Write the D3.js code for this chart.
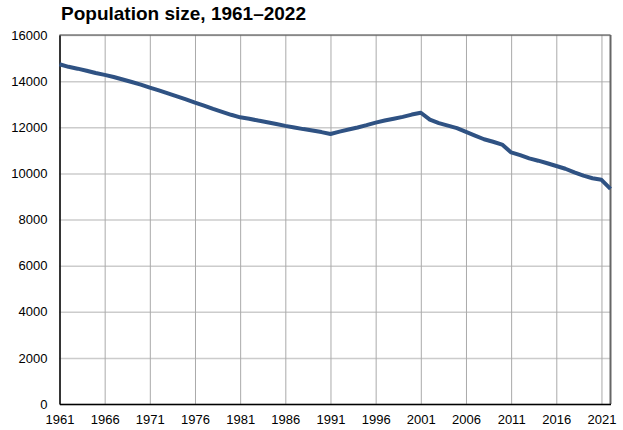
<!DOCTYPE html>
<html>
<head>
<meta charset="utf-8">
<script src="https://cdn.jsdelivr.net/npm/d3@7/dist/d3.min.js"></script>
<style>
  html, body { margin: 0; padding: 0; background: #fff; }
  svg { display: block; font-family: "Liberation Sans", Arial, sans-serif; }
</style>
</head>
<body>
<svg id="chart" width="623" height="430"></svg>
<script>
// Annual population, 1961–2022
const years = d3.range(1961, 2023);
const population = [
  14730, 14620, 14540, 14450, 14350, 14270, 14180, 14070, 13960, 13850,
  13720, 13600, 13470, 13340, 13210, 13070, 12940, 12800, 12670, 12540,
  12430, 12370, 12290, 12220, 12140, 12060, 11990, 11920, 11860, 11790,
  11710, 11810, 11900, 11990, 12090, 12200, 12290, 12370, 12450, 12550,
  12630, 12330, 12180, 12070, 11960, 11800, 11640, 11480, 11370, 11250,
  10910, 10790, 10650, 10550, 10440, 10320, 10200, 10040, 9900, 9790,
  9720, 9330
];
const xTicks = [1961, 1966, 1971, 1976, 1981, 1986, 1991, 1996, 2001, 2006, 2011, 2016, 2021];
const yTicks = [0, 2000, 4000, 6000, 8000, 10000, 12000, 14000, 16000];
const title = "Population size, 1961\u20132022";

const svg = d3.select("#chart");
const plotLeft = 59.5, plotRight = 610.5, plotTop = 35, plotBottom = 404;
const labelFont = "'Liberation Sans', Arial, sans-serif";

const x = d3.scaleLinear().domain([1961, 2022]).range([plotLeft, plotRight]);
const y = d3.scaleLinear().domain([0, 16000]).range([plotBottom, plotTop]);

// horizontal grid
svg.append("g")
  .attr("transform", `translate(${plotLeft},0)`)
  .call(d3.axisLeft(y).tickValues(yTicks).tickSize(-(plotRight - plotLeft)).tickFormat(""))
  .call(g => g.select(".domain").remove())
  .call(g => g.selectAll("line").attr("stroke", "#cccccc").attr("stroke-width", 1.5));

// vertical grid
svg.append("g")
  .attr("transform", `translate(0,${plotBottom})`)
  .call(d3.axisBottom(x).tickValues(xTicks).tickSize(-(plotBottom - plotTop)).tickFormat(""))
  .call(g => g.select(".domain").remove())
  .call(g => g.selectAll("line").attr("stroke", "#aaaaaa").attr("stroke-width", 1));

// frame: top and right
svg.append("line").attr("x1", plotLeft).attr("x2", plotRight).attr("y1", plotTop).attr("y2", plotTop)
  .attr("stroke", "#444").attr("stroke-width", 1.2);
svg.append("line").attr("x1", plotRight).attr("x2", plotRight).attr("y1", plotTop).attr("y2", plotBottom)
  .attr("stroke", "#666").attr("stroke-width", 2);

// y labels
svg.append("g")
  .attr("transform", `translate(${plotLeft},0)`)
  .call(d3.axisLeft(y).tickValues(yTicks).tickSize(0).tickPadding(12).tickFormat(d3.format("d")))
  .call(g => g.select(".domain").attr("stroke", "#000").attr("stroke-width", 1.5))
  .call(g => g.selectAll("text").attr("font-size", 13).attr("fill", "#000")
    .attr("font-family", labelFont));

// x labels
svg.append("g")
  .attr("transform", `translate(0,${plotBottom})`)
  .call(d3.axisBottom(x).tickValues(xTicks).tickSize(0).tickPadding(11).tickFormat(d3.format("d")))
  .call(g => g.select(".domain").attr("stroke", "#000").attr("stroke-width", 1.5))
  .call(g => g.selectAll("text").attr("font-size", 13).attr("fill", "#000")
    .attr("font-family", labelFont));

// population line
const line = d3.line()
  .x((d, i) => x(years[i]))
  .y(d => y(d));
svg.append("path")
  .datum(population)
  .attr("fill", "none")
  .attr("stroke", "#2f5283")
  .attr("stroke-width", 4)
  .attr("stroke-linejoin", "round")
  .attr("d", line);

svg.append("text")
  .attr("x", 61).attr("y", 20)
  .attr("font-size", 19).attr("font-weight", "bold").attr("fill", "#000")
  .attr("font-family", labelFont)
  .text(title);
</script>
</body>
</html>
